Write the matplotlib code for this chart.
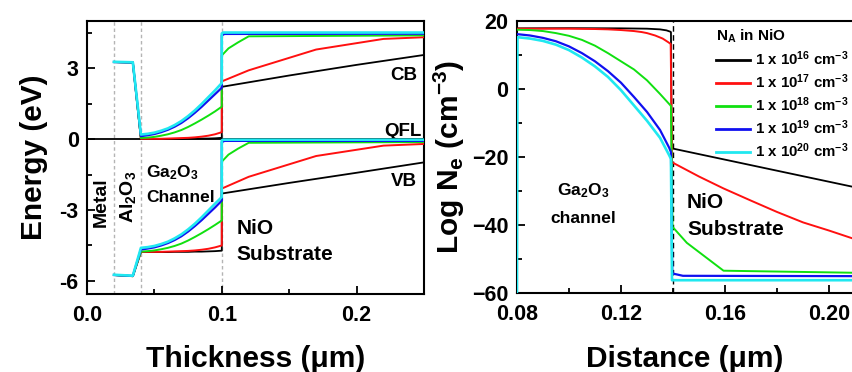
import matplotlib
matplotlib.use("Agg")
import matplotlib.pyplot as plt
from matplotlib.ticker import MultipleLocator

plt.rcParams['font.family'] = ['Liberation Sans', 'DejaVu Sans']
plt.rcParams['font.weight'] = 'bold'
plt.rcParams['mathtext.fontset'] = 'custom'
plt.rcParams['mathtext.rm'] = 'Liberation Sans:bold'
plt.rcParams['mathtext.it'] = 'Liberation Sans:bold'
plt.rcParams['mathtext.bf'] = 'Liberation Sans:bold'
plt.rcParams['mathtext.default'] = 'rm'

# --- panneau gauche : diagramme de bandes (Al2O3 + canal Ga2O3) ---
x_ox_ch = [0.02, 0.034, 0.04, 0.045, 0.05, 0.055, 0.06, 0.065, 0.07,
           0.075, 0.08, 0.085, 0.09, 0.095, 0.1]
cb_ox_16 = [3.27, 3.25, 0.01, 0.01, 0.01, 0.01, 0.01, 0.01, 0.01,
            0.02, 0.02, 0.03, 0.03, 0.04, 0.06]
cb_ox_17 = [3.27, 3.25, 0.02, 0.02, 0.02, 0.02, 0.03, 0.04, 0.05,
            0.06, 0.08, 0.11, 0.15, 0.21, 0.3]
cb_ox_18 = [3.27, 3.25, 0.05, 0.07, 0.1, 0.15, 0.21, 0.29, 0.39,
            0.52, 0.67, 0.83, 1.0, 1.18, 1.38]
cb_ox_19 = [3.27, 3.25, 0.13, 0.17, 0.22, 0.3, 0.4, 0.53, 0.69,
            0.89, 1.12, 1.37, 1.64, 1.91, 2.18]
cb_ox_20 = [3.28, 3.26, 0.2, 0.23, 0.28, 0.36, 0.46, 0.6, 0.77,
            0.98, 1.22, 1.49, 1.78, 2.07, 2.38]
vb_ox_16 = [-5.75, -5.8, -4.78, -4.78, -4.78, -4.78, -4.78, -4.77, -4.77,
            -4.77, -4.76, -4.76, -4.75, -4.74, -4.72]
vb_ox_17 = [-5.75, -5.8, -4.77, -4.77, -4.77, -4.77, -4.76, -4.75, -4.74,
            -4.73, -4.71, -4.68, -4.64, -4.58, -4.5]
vb_ox_18 = [-5.75, -5.8, -4.76, -4.74, -4.71, -4.66, -4.6, -4.52, -4.42,
            -4.29, -4.14, -3.98, -3.81, -3.63, -3.44]
vb_ox_19 = [-5.75, -5.79, -4.67, -4.63, -4.58, -4.5, -4.4, -4.27, -4.11,
            -3.91, -3.68, -3.43, -3.16, -2.89, -2.6]
vb_ox_20 = [-5.74, -5.78, -4.6, -4.57, -4.52, -4.44, -4.34, -4.2, -4.03,
            -3.82, -3.58, -3.31, -3.02, -2.73, -2.45]

# substrat NiO
x_nio_16 = [0.1, 0.15, 0.2, 0.25]
cb_nio_16 = [2.22, 2.7, 3.15, 3.57]
vb_nio_16 = [-2.3, -1.85, -1.42, -0.98]
x_nio_17 = [0.1, 0.12, 0.17, 0.22, 0.25]
cb_nio_17 = [2.45, 2.92, 3.8, 4.25, 4.32]
vb_nio_17 = [-2.09, -1.59, -0.71, -0.27, -0.2]
x_nio_18 = [0.1, 0.105, 0.112, 0.12, 0.25]
cb_nio_18 = [3.55, 3.85, 4.1, 4.36, 4.4]
vb_nio_18 = [-0.95, -0.65, -0.4, -0.15, -0.12]
x_nio_19 = [0.1, 0.102, 0.25]
cb_nio_19 = [4.4, 4.46, 4.47]
vb_nio_19 = [-0.12, -0.07, -0.07]
x_nio_20 = [0.1, 0.101, 0.25]
cb_nio_20 = [4.48, 4.52, 4.52]
vb_nio_20 = [-0.05, -0.02, -0.02]

qfl_x = [0.0, 0.25]
qfl_y = [0.0, 0.0]
layer_edges = [0.02, 0.04, 0.1]

# --- panneau droit : densité d'électrons ---
x_ne_16 = [0.08, 0.1, 0.12, 0.13, 0.135, 0.1375, 0.139, 0.1392, 0.1395, 0.209]
ne_16 = [17.9, 17.95, 17.9, 17.8, 17.6, 17.3, 16.9, 16.8, -17.4, -28.7]
x_ne_17 = [0.08, 0.1, 0.11, 0.115, 0.12, 0.125, 0.128, 0.13, 0.1331, 0.136,
           0.1382, 0.1391, 0.1396, 0.15, 0.1594, 0.17, 0.1799, 0.19, 0.2, 0.209]
ne_17 = [17.8, 17.8, 17.7, 17.6, 17.4, 17.1, 16.8, 16.5, 15.8, 14.9,
         13.8, 13.3, -21.5, -25.7, -29.2, -32.8, -36.1, -39.2, -41.6, -43.9]
x_ne_18 = [0.08, 0.085, 0.09, 0.095, 0.1, 0.105, 0.11, 0.115, 0.12, 0.125,
           0.13, 0.135, 0.1388, 0.1392, 0.1398, 0.1453, 0.1594, 0.209]
ne_18 = [17.5, 17.4, 17.1, 16.5, 15.7, 14.5, 12.8, 10.6, 8.2, 5.8,
         2.6, -1.4, -4.6, -5.0, -40.5, -45.2, -53.4, -54.0]
x_ne_19 = [0.08, 0.085, 0.09, 0.095, 0.1, 0.105, 0.11, 0.115, 0.12, 0.125,
           0.13, 0.135, 0.1385, 0.1392, 0.1397, 0.1438, 0.209]
ne_19 = [16.2, 15.8, 15.1, 14.1, 12.6, 10.6, 8.2, 5.3, 1.9, -2.3,
         -6.7, -12.0, -17.2, -18.5, -54.2, -54.9, -55.0]
x_ne_20 = [0.08, 0.0802, 0.085, 0.09, 0.095, 0.1, 0.105, 0.11, 0.115, 0.12,
           0.125, 0.13, 0.135, 0.1385, 0.1392, 0.1396, 0.209]
ne_20 = [-60.0, 15.3, 14.9, 14.2, 13.1, 11.5, 9.3, 6.7, 3.6, -0.3,
         -4.8, -9.3, -14.3, -19.4, -20.5, -56.2, -56.2]
junction = 0.14

doping_exp = [16, 17, 18, 19, 20]
couleurs = ['black', '#ff1010', '#10e010', '#1010f0', '#20e8f0']
largeurs = [1.3, 1.4, 1.4, 1.6, 1.9]

fig = plt.figure(figsize=(8.53, 3.72), dpi=100)
ax1 = fig.add_axes([0.102, 0.21, 0.395, 0.733])
ax2 = fig.add_axes([0.606, 0.212, 0.3935, 0.731])

# panneau gauche
for xe in layer_edges:
    ax1.axvline(xe, color='#b4b4b4', lw=1.0, ls=(0, (2.5, 2)), zorder=1)
ax1.plot(qfl_x, qfl_y, color='black', lw=1.3, zorder=2)

cb_ox = [cb_ox_16, cb_ox_17, cb_ox_18, cb_ox_19, cb_ox_20]
vb_ox = [vb_ox_16, vb_ox_17, vb_ox_18, vb_ox_19, vb_ox_20]
x_nio = [x_nio_16, x_nio_17, x_nio_18, x_nio_19, x_nio_20]
cb_nio = [cb_nio_16, cb_nio_17, cb_nio_18, cb_nio_19, cb_nio_20]
vb_nio = [vb_nio_16, vb_nio_17, vb_nio_18, vb_nio_19, vb_nio_20]
for i in range(5):
    xs = x_ox_ch + x_nio[i]
    ax1.plot(xs, cb_ox[i] + cb_nio[i], color=couleurs[i], lw=largeurs[i], zorder=3 + i)
    ax1.plot(xs, vb_ox[i] + vb_nio[i], color=couleurs[i], lw=largeurs[i], zorder=3 + i)

ax1.set_xlim(0, 0.25)
ax1.set_ylim(-6.55, 5.0)
ax1.xaxis.set_major_locator(MultipleLocator(0.1))
ax1.xaxis.set_minor_locator(MultipleLocator(0.05))
ax1.yaxis.set_major_locator(MultipleLocator(3))
ax1.yaxis.set_minor_locator(MultipleLocator(1.5))
ax1.xaxis.set_major_formatter(plt.FuncFormatter(lambda v, p: f"{v:.1f}"))
ax1.yaxis.set_major_formatter(plt.FuncFormatter(lambda v, p: f"{v:.0f}"))
ax1.set_xlabel("Thickness (μm)", fontsize=21.5, fontweight='bold', labelpad=14)
ax1.set_ylabel("Energy (eV)", fontsize=21.5, fontweight='bold', labelpad=8)

ax1.text(0.245, 2.68, "CB", fontsize=13.5, ha='right', va='center')
ax1.text(0.248, 0.32, "QFL", fontsize=13.5, ha='right', va='center')
ax1.text(0.245, -1.77, "VB", fontsize=13.5, ha='right', va='center')
ax1.text(0.0108, -2.65, "Metal", fontsize=14, rotation=90, ha='center', va='center')
ax1.text(0.0305, -2.45, r"Al$_{2}$O$_{3}$", fontsize=14, rotation=90, ha='center', va='center')
ax1.text(0.044, -1.43, r"Ga$_{2}$O$_{3}$", fontsize=12.5, ha='left', va='center')
ax1.text(0.044, -2.45, "Channel", fontsize=12.5, ha='left', va='center')
ax1.text(0.111, -3.77, "NiO", fontsize=15, ha='left', va='center')
ax1.text(0.111, -4.9, "Substrate", fontsize=15, ha='left', va='center')

# panneau droit
ax2.axvline(junction, color='black', lw=1.0, ls=(0, (4, 2.5)), zorder=1)
x_ne = [x_ne_16, x_ne_17, x_ne_18, x_ne_19, x_ne_20]
ne = [ne_16, ne_17, ne_18, ne_19, ne_20]
for i in range(5):
    ax2.plot(x_ne[i], ne[i], color=couleurs[i], lw=largeurs[i], zorder=3 + i,
             label=rf"1 x 10$^{{{doping_exp[i]}}}$ cm$^{{-3}}$")

ax2.set_xlim(0.08, 0.209)
ax2.set_ylim(-60, 20)
ax2.xaxis.set_major_locator(MultipleLocator(0.04))
ax2.xaxis.set_minor_locator(MultipleLocator(0.02))
ax2.yaxis.set_major_locator(MultipleLocator(20))
ax2.yaxis.set_minor_locator(MultipleLocator(10))
ax2.xaxis.set_major_formatter(plt.FuncFormatter(lambda v, p: f"{v:.2f}"))
ax2.set_xlabel("Distance (μm)", fontsize=21.5, fontweight='bold', labelpad=14)
ax2.set_ylabel(r"Log N$_{e}$ (cm$^{-3}$)", fontsize=21.5, fontweight='bold', labelpad=4)
ax2.spines['right'].set_visible(False)

ax2.text(0.1054, -29.8, r"Ga$_{2}$O$_{3}$", fontsize=12.5, ha='center', va='center')
ax2.text(0.1054, -38.0, "channel", fontsize=12.5, ha='center', va='center')
ax2.text(0.1454, -33.2, "NiO", fontsize=15, ha='left', va='center')
ax2.text(0.1454, -41.2, "Substrate", fontsize=15, ha='left', va='center')

leg = ax2.legend(loc='upper left', bbox_to_anchor=(0.565, 1.01), frameon=False,
                 title=r"N$_{A}$ in NiO", fontsize=10.8, title_fontsize=11,
                 handlelength=2.3, handletextpad=0.3, labelspacing=0.3,
                 borderaxespad=0.2, alignment='left')
for ligne in leg.get_lines():
    ligne.set_linewidth(2.0)

for ax in (ax1, ax2):
    for sp in ax.spines.values():
        sp.set_linewidth(1.5)
    ax.tick_params(which='both', direction='in', labelsize=15.5, width=1.3, top=False, right=False)
    ax.tick_params(which='major', length=6)
    ax.tick_params(which='minor', length=3.5)
    ax.tick_params(axis='x', pad=8)
    ax.tick_params(axis='y', pad=6)
    for lab in ax.get_xticklabels() + ax.get_yticklabels():
        lab.set_fontweight('bold')

fig.savefig("out.png", dpi=100)
